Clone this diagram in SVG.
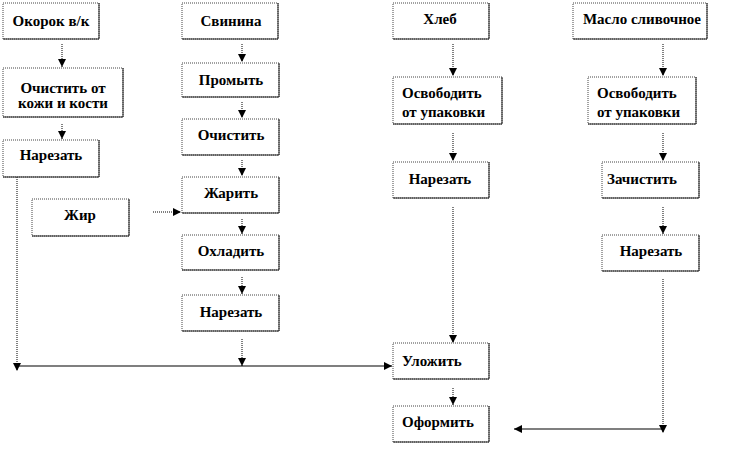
<svg xmlns="http://www.w3.org/2000/svg" width="756" height="453" viewBox="0 0 756 453">
<style>
.box{fill:#fff;stroke:#444;stroke-width:1;stroke-dasharray:1 1}
.sh{fill:none;stroke:#222;stroke-width:1}
.c{text-anchor:middle}
.ln{fill:none;stroke:#000;stroke-width:1;stroke-dasharray:1 1}
.sol{fill:none;stroke:#000;stroke-width:1.2}
</style>
<defs>
<marker id="ah" viewBox="0 0 10 10" refX="10" refY="5" markerWidth="8" markerHeight="8" markerUnits="userSpaceOnUse" orient="auto">
<path d="M0,0 L10,5 L0,10 Z" fill="#000"/>
</marker>
</defs>
<rect width="756" height="453" fill="#fff"/>
<g id="connectors">
<path class="ln" d="M62,44 V67" marker-end="url(#ah)"/>
<path class="ln" d="M62,124 V139" marker-end="url(#ah)"/>
<path class="ln" d="M242,44 V62" marker-end="url(#ah)"/>
<path class="ln" d="M242,102 V118" marker-end="url(#ah)"/>
<path class="ln" d="M242,160 V176" marker-end="url(#ah)"/>
<path class="ln" d="M242,219 V234" marker-end="url(#ah)"/>
<path class="ln" d="M242,277 V294" marker-end="url(#ah)"/>
<path class="ln" d="M242,339 V366" marker-end="url(#ah)"/>
<path class="ln" d="M153,212 H181" marker-end="url(#ah)"/>
<path class="ln" d="M17,177 V371" marker-end="url(#ah)"/>
<path class="sol" d="M17,366 H392" marker-end="url(#ah)"/>
<path class="ln" d="M453,44 V76" marker-end="url(#ah)"/>
<path class="ln" d="M453,133 V161" marker-end="url(#ah)"/>
<path class="ln" d="M453,207 V343" marker-end="url(#ah)"/>
<path class="ln" d="M453,388 V405" marker-end="url(#ah)"/>
<path class="ln" d="M663,44 V76" marker-end="url(#ah)"/>
<path class="ln" d="M663,133 V161" marker-end="url(#ah)"/>
<path class="ln" d="M663,207 V234" marker-end="url(#ah)"/>
<path class="ln" d="M663,279 V433" marker-end="url(#ah)"/>
<path class="sol" d="M663,429 H514" marker-end="url(#ah)"/>
</g>
<g font-family="Liberation Serif, DejaVu Serif, serif" font-weight="bold" font-size="15" fill="#000">
<g id="n1"><rect class="box" x="3" y="3" width="96" height="36"/><path class="sh" d="M99,3 V39 H3"/><text class="c" x="51" y="26">Окорок в/к</text></g>
<g id="n2"><rect class="box" x="3" y="68" width="120" height="49"/><path class="sh" d="M123,68 V117 H3"/><text class="c" x="63" y="93">Очистить от</text><text class="c" x="63" y="108">кожи и кости</text></g>
<g id="n3"><rect class="box" x="3" y="140" width="96" height="37"/><path class="sh" d="M99,140 V177 H3"/><text class="c" x="51" y="160">Нарезать</text></g>
<g id="n4"><rect class="box" x="32" y="199" width="97" height="37"/><path class="sh" d="M129,199 V236 H32"/><text class="c" x="80" y="220">Жир</text></g>
<g id="n5"><rect class="box" x="182" y="3" width="96" height="36"/><path class="sh" d="M278,3 V39 H182"/><text class="c" x="231" y="26">Свинина</text></g>
<g id="n6"><rect class="box" x="182" y="63" width="97" height="34"/><path class="sh" d="M279,63 V97 H182"/><text class="c" x="231" y="85">Промыть</text></g>
<g id="n7"><rect class="box" x="182" y="119" width="97" height="36"/><path class="sh" d="M279,119 V155 H182"/><text class="c" x="231" y="140">Очистить</text></g>
<g id="n8"><rect class="box" x="182" y="177" width="97" height="36"/><path class="sh" d="M279,177 V213 H182"/><text class="c" x="231" y="198">Жарить</text></g>
<g id="n9"><rect class="box" x="182" y="235" width="97" height="35"/><path class="sh" d="M279,235 V270 H182"/><text class="c" x="231" y="256">Охладить</text></g>
<g id="n10"><rect class="box" x="182" y="295" width="97" height="36"/><path class="sh" d="M279,295 V331 H182"/><text class="c" x="231" y="317">Нарезать</text></g>
<g id="n11"><rect class="box" x="393" y="3" width="96" height="36"/><path class="sh" d="M489,3 V39 H393"/><text class="c" x="440" y="24">Хлеб</text></g>
<g id="n12"><rect class="box" x="393" y="77" width="109" height="47"/><path class="sh" d="M502,77 V124 H393"/><text x="402" y="98">Освободить</text><text x="402" y="117">от упаковки</text></g>
<g id="n13"><rect class="box" x="393" y="162" width="96" height="36"/><path class="sh" d="M489,162 V198 H393"/><text class="c" x="440" y="184">Нарезать</text></g>
<g id="n14"><rect class="box" x="393" y="343" width="96" height="36"/><path class="sh" d="M489,343 V379 H393"/><text x="402" y="366">Уложить</text></g>
<g id="n15"><rect class="box" x="393" y="406" width="96" height="36"/><path class="sh" d="M489,406 V442 H393"/><text x="402" y="427">Оформить</text></g>
<g id="n16"><rect class="box" x="573" y="3" width="134" height="36"/><path class="sh" d="M707,3 V39 H573"/><text class="c" x="642" y="24">Масло сливочное</text></g>
<g id="n17"><rect class="box" x="588" y="77" width="108" height="47"/><path class="sh" d="M696,77 V124 H588"/><text x="597" y="98">Освободить</text><text x="597" y="117">от упаковки</text></g>
<g id="n18"><rect class="box" x="602" y="162" width="97" height="36"/><path class="sh" d="M699,162 V198 H602"/><text class="c" x="642" y="184">Зачистить</text></g>
<g id="n19"><rect class="box" x="602" y="235" width="97" height="36"/><path class="sh" d="M699,235 V271 H602"/><text class="c" x="651" y="256">Нарезать</text></g>
</g>
</svg>
